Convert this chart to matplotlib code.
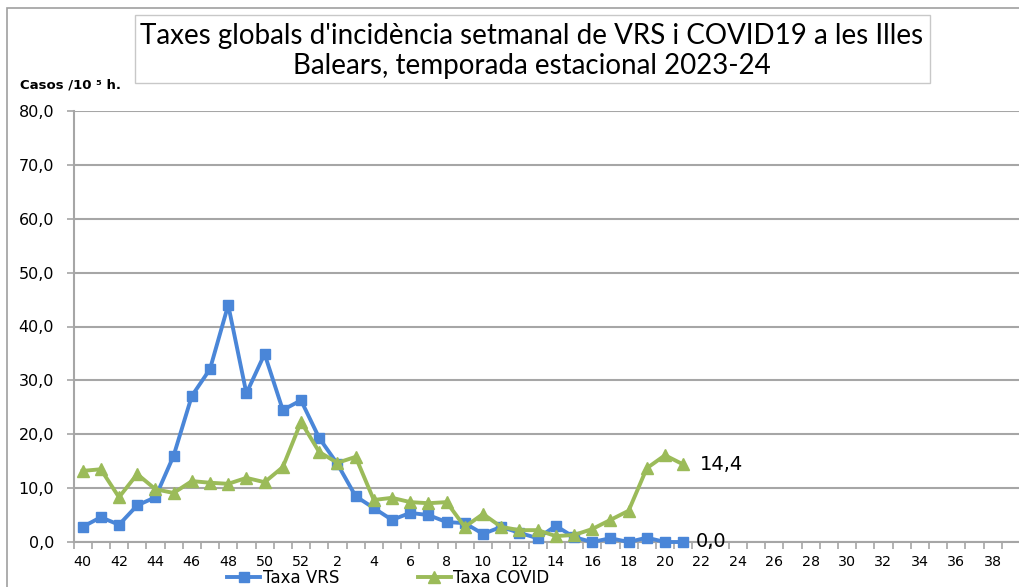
import matplotlib
matplotlib.use("Agg")
import matplotlib.pyplot as plt
from matplotlib.patches import Rectangle
from matplotlib.lines import Line2D
import numpy as np

weeks = list(range(40, 53)) + list(range(1, 40))
vrs = [2.8, 4.6, 3.2, 6.8, 8.3, 16.0, 27.1, 32.1, 44.0, 27.6, 34.9, 24.5, 26.3,
       19.3, 14.5, 8.5, 6.3, 4.1, 5.4, 5.0, 3.7, 3.5, 1.5, 2.8, 1.7, 0.7, 3.0,
       0.9, 0.0, 0.7, 0.0, 0.8, 0.0, 0.0]
covid = [13.2, 13.5, 8.3, 12.6, 9.8, 9.1, 11.3, 11.0, 10.8, 11.9, 11.1, 13.9, 22.3,
         16.7, 14.7, 15.8, 7.8, 8.2, 7.4, 7.2, 7.4, 2.8, 5.2, 2.8, 2.2, 2.2, 1.1,
         1.3, 2.4, 4.1, 5.8, 13.7, 16.1, 14.4]
yticks = [0, 10, 20, 30, 40, 50, 60, 70, 80]
title = "Taxes globals d'incidència setmanal de VRS i COVID19 a les Illes\nBalears, temporada estacional 2023-24"

BLUE = "#4A86D8"
GREEN = "#9BBB59"
GRID = "#A6A6A6"
W, H = 1019, 587
FONT = "DejaVu Sans"

fig = plt.figure(figsize=(W / 100, H / 100), dpi=100)
fig.patch.set_facecolor("white")

# outer chart border
fig.add_artist(Rectangle((7 / W, -0.1), 1.2, 1 - 8 / H + 0.1, transform=fig.transFigure,
                         fill=False, edgecolor="#A0A0A0", lw=1.2))

ax = fig.add_axes([73.5 / W, 45 / H, 1 - 73.5 / W, (542 - 111) / H])
x = np.arange(len(vrs))
ax.plot(x, vrs, color=BLUE, lw=2.8, marker="s", ms=7, mfc=BLUE, mec=BLUE, zorder=3, clip_on=False)
ax.plot(x[:len(covid)], covid, color=GREEN, lw=2.8, marker="^", ms=9, mfc=GREEN, mec=GREEN,
        zorder=4, clip_on=False)

ax.set_xlim(-0.5, 51.45)
ax.set_ylim(0, 80)
ax.set_yticks(yticks)
ax.set_yticklabels([f"{v:.1f}".replace(".", ",") for v in yticks], fontsize=11.5, family=FONT)
ax.set_xticks(np.arange(0, len(weeks), 2))
ax.set_xticklabels([str(w) for w in weeks[::2]], fontsize=10.3, family=FONT)
ax.set_xticks(np.arange(-0.5, len(weeks) - 0.5, 1), minor=True)
ax.tick_params(axis="x", which="major", length=0, pad=9)
ax.tick_params(axis="x", which="minor", length=5, color=GRID, width=1.2)
ax.tick_params(axis="y", length=5, color=GRID, width=1.2, pad=9)
ax.grid(axis="y", color=GRID, lw=1.5)
ax.set_axisbelow(True)
for s in ["top", "right"]:
    ax.spines[s].set_visible(False)
for s in ["left", "bottom"]:
    ax.spines[s].set_color(GRID)
    ax.spines[s].set_linewidth(1.5)

ax.annotate(f"{covid[-1]:.1f}".replace(".", ","), (x[len(covid) - 1], covid[-1]),
            xytext=(12, 0), textcoords="offset points", va="center", ha="left",
            fontsize=14, family=FONT)
ax.annotate(f"{vrs[-1]:.1f}".replace(".", ","), (x[len(vrs) - 1], vrs[-1]),
            xytext=(9, 0.5), textcoords="offset points", va="center", ha="left",
            fontsize=14, family=FONT)

# title box
fig.add_artist(Rectangle((135 / W, 1 - 83 / H), (930 - 135) / W, (83 - 15) / H,
                         transform=fig.transFigure, fill=False, edgecolor="#C8C8C8", lw=1))
fig.text(532 / W, 1 - 51 / H, title, ha="center", va="center", fontsize=20,
         family="Lato", linespacing=1.15)

fig.text(20 / W, 1 - 85 / H, "Casos /10 ⁵ h.", ha="left", va="center", fontsize=9.5,
         fontweight="bold", family=FONT)

handles = [Line2D([], [], color=BLUE, lw=2.8, marker="s", ms=7),
           Line2D([], [], color=GREEN, lw=2.8, marker="^", ms=9)]
fig.legend(handles, ["Taxa VRS", "Taxa COVID"], loc="center left",
           bbox_to_anchor=(227 / W, 9 / H), borderaxespad=0, borderpad=0,
           ncol=2, frameon=False, handlelength=2.0, handletextpad=0.15,
           columnspacing=4.7, prop={"family": FONT, "size": 12})

fig.savefig("out.png", dpi=100)
